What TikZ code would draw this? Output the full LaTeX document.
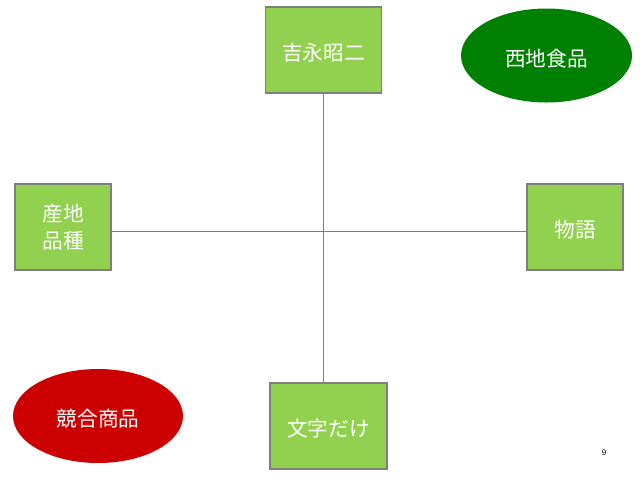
\documentclass[tikz,border=0pt]{standalone}
\usepackage{fontspec}
\setmainfont{Liberation Sans}
\newfontfamily\cjk{Noto Sans CJK JP}
\usetikzlibrary{shapes.geometric}
\definecolor{boxgreen}{HTML}{92D050}
\definecolor{boxedge}{HTML}{7F7F7F}
\definecolor{ovgreen}{HTML}{008000}
\definecolor{ovred}{HTML}{CC0000}
\newcommand{\txtdown}[1]{\raisebox{-2.2pt}[\height][\depth]{#1}}
\begin{document}
\begin{tikzpicture}[x=0.75pt,y=-0.75pt,
  gbox/.style={rectangle,draw=boxedge,line width=0.8pt,fill=boxgreen,inner sep=0pt,text=white,font=\cjk\fontsize{15.5}{20}\selectfont,align=center},
  oval/.style={ellipse,draw=none,inner sep=0pt,text=white,font=\cjk\fontsize{15.5}{20}\selectfont},
  axis/.style={draw=boxedge,line width=0.7pt}]
\useasboundingbox (0,0) rectangle (640,480);
\node[gbox,minimum width=116*0.75pt,minimum height=86*0.75pt] (top) at (323.5,50) {\txtdown{吉永昭二}};
\node[gbox,minimum width=96*0.75pt,minimum height=86*0.75pt] (left) at (63,227) {\txtdown{\begin{tabular}{@{}c@{}}産地\\品種\end{tabular}}};
\node[gbox,minimum width=96*0.75pt,minimum height=86*0.75pt] (right) at (575,227) {\txtdown{物語}};
\node[gbox,minimum width=117*0.75pt,minimum height=86*0.75pt] (bottom) at (328.5,426) {\txtdown{文字だけ}};
\node[oval,fill=ovgreen,minimum width=171*0.75pt,minimum height=94*0.75pt] (west) at (546.5,55.5) {\txtdown{西地食品}};
\node[oval,fill=ovred,minimum width=170*0.75pt,minimum height=94*0.75pt] (comp) at (98,416) {\txtdown{競合商品}};
\coordinate (vtop) at (323,93);
\coordinate (vbot) at (vtop |- bottom.north);
\draw[axis] (vtop) -- (vbot);
\coordinate (hl) at (left.east |- 0,231);
\coordinate (hr) at (right.west |- 0,231);
\draw[axis] (hl) -- (hr);
\node[font=\fontsize{6}{7}\selectfont,inner sep=0pt] (pg) at (604,453) {9};
\end{tikzpicture}
\end{document}
